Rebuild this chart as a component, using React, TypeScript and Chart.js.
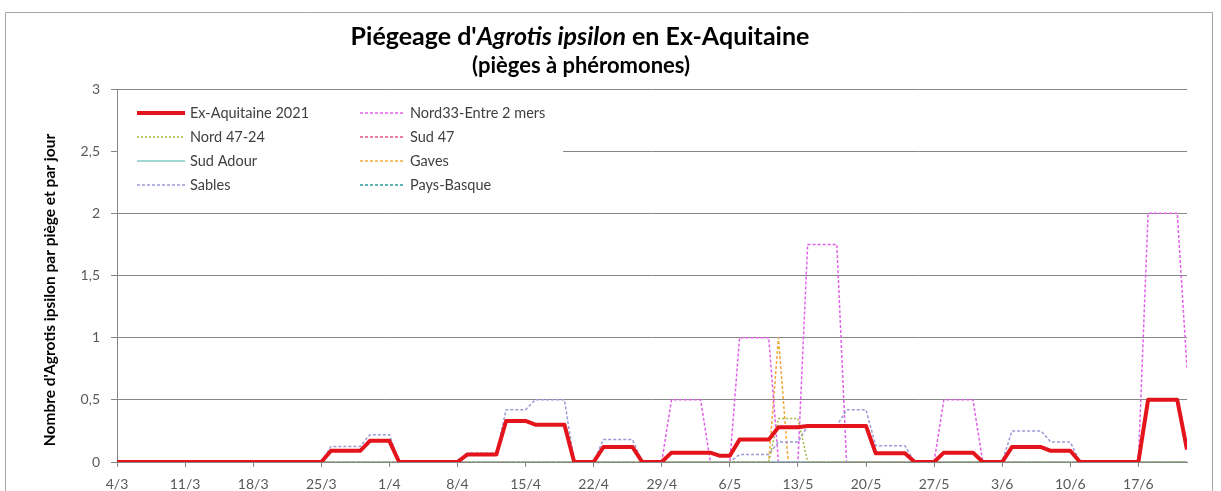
import React, { useEffect, useRef } from 'react';
import { Chart, registerables } from 'chart.js';

Chart.register(...registerables);

// ---- Text ----
const titleParts = [
  { text: "Piégeage d'", italic: false },
  { text: 'Agrotis ipsilon', italic: true },
  { text: ' en Ex-Aquitaine', italic: false },
];
const subtitleText = '(pièges à phéromones)';
const yAxisTitle = "Nombre d'Agrotis ipsilon par piège et par jour";

// ---- Axes (x = days since 4/3) ----
const tickDays = [0, 7, 14, 21, 28, 35, 42, 49, 56, 63, 70, 77, 84, 91, 98, 105];
const tickLabels = ['4/3', '11/3', '18/3', '25/3', '1/4', '8/4', '15/4', '22/4', '29/4', '6/5', '13/5', '20/5', '27/5', '3/6', '10/6', '17/6'];
const yTickLabels = ['0', '0,5', '1', '1,5', '2', '2,5', '3'];
const lastDay = 110;

// ---- Series (breakpoint days and values) ----
const exAquitaineDays = [0, 21, 22, 25, 26, 28, 29, 35, 36, 39, 40, 42, 43, 46, 47, 49, 50, 53, 54, 56, 57, 61, 62, 63, 64, 67, 68, 70, 71, 77, 78, 81, 82, 84, 85, 88, 89, 91, 92, 95, 96, 98, 99, 105, 106, 109, 110];
const exAquitaineVals = [0, 0, 0.09, 0.09, 0.17, 0.17, 0, 0, 0.06, 0.06, 0.33, 0.33, 0.3, 0.3, 0, 0, 0.12, 0.12, 0, 0, 0.075, 0.075, 0.05, 0.05, 0.18, 0.18, 0.28, 0.28, 0.29, 0.29, 0.07, 0.07, 0, 0, 0.075, 0.075, 0, 0, 0.12, 0.12, 0.09, 0.09, 0, 0, 0.5, 0.5, 0.1];

const nord4724Days = [0, 67, 68, 70, 71, 110];
const nord4724Vals = [0, 0, 0.35, 0.35, 0, 0];

const sudAdourDays = [0, 110];
const sudAdourVals = [0, 0];

const sablesDays = [0, 21, 22, 25, 26, 28, 29, 35, 36, 39, 40, 42, 43, 46, 47, 49, 50, 53, 54, 63, 64, 67, 68, 70, 71, 74, 75, 77, 78, 81, 82, 91, 92, 95, 96, 98, 99, 110];
const sablesVals = [0, 0, 0.125, 0.125, 0.22, 0.22, 0, 0, 0.07, 0.07, 0.42, 0.42, 0.5, 0.5, 0, 0, 0.18, 0.18, 0, 0, 0.06, 0.06, 0.16, 0.16, 0.29, 0.29, 0.42, 0.42, 0.13, 0.13, 0, 0, 0.25, 0.25, 0.16, 0.16, 0, 0];

const nord33Days = [0, 56, 57, 60, 61, 63, 64, 67, 68, 70, 71, 74, 75, 84, 85, 88, 89, 105, 106, 109, 110];
const nord33Vals = [0, 0, 0.5, 0.5, 0, 0, 1, 1, 0, 0, 1.75, 1.75, 0, 0, 0.5, 0.5, 0, 0, 2, 2, 0.75];

const sud47Days = [0, 110];
const sud47Vals = [0, 0];

const gavesDays = [0, 67, 68, 69, 110];
const gavesVals = [0, 0, 1, 0, 0];

const paysBasqueDays = [0, 110];
const paysBasqueVals = [0, 0];

const FONT = 'Lato, "Liberation Sans", sans-serif';

const pts = (days: number[], vals: number[]) => days.map((d, i) => ({ x: d, y: vals[i] }));

const overlayPlugin = {
  id: 'overlay',
  beforeDraw(chart: any) {
    const ctx = chart.ctx;
    ctx.save();
    ctx.fillStyle = '#ffffff';
    ctx.fillRect(0, 0, chart.width, chart.height);
    ctx.strokeStyle = '#a6a6a6';
    ctx.lineWidth = 1;
    ctx.beginPath();
    ctx.moveTo(5.5, chart.height + 5);
    ctx.lineTo(5.5, 12.5);
    ctx.lineTo(1212.5, 12.5);
    ctx.lineTo(1212.5, chart.height + 5);
    ctx.stroke();
    ctx.restore();
  },
  afterDatasetsDraw(chart: any) {
    const ctx = chart.ctx;
    const area = chart.chartArea;
    ctx.save();
    // legend box
    ctx.fillStyle = '#ffffff';
    ctx.fillRect(area.left + 1, 97, 563 - area.left - 1, 100);
    const colLine = [[137, 185], [360, 403]];
    const colText = [190, 410];
    const rowY = [113, 137, 161, 185];
    chart.data.datasets.forEach((ds: any, i: number) => {
      const col = Math.floor(i / 4);
      const row = i % 4;
      const y = rowY[row];
      ctx.save();
      ctx.strokeStyle = ds.borderColor;
      ctx.lineWidth = ds.borderWidth;
      ctx.setLineDash(ds.borderDash || []);
      ctx.beginPath();
      ctx.moveTo(colLine[col][0], y);
      ctx.lineTo(colLine[col][1], y);
      ctx.stroke();
      ctx.restore();
      ctx.fillStyle = '#404040';
      ctx.font = `14.5px ${FONT}`;
      ctx.textBaseline = 'middle';
      ctx.textAlign = 'left';
      ctx.fillText(ds.label, colText[col], y);
    });
    ctx.restore();
  },
  afterDraw(chart: any) {
    const ctx = chart.ctx;
    ctx.save();
    ctx.fillStyle = '#000000';
    ctx.textBaseline = 'alphabetic';
    ctx.textAlign = 'left';
    // title
    const tSize = 25;
    const widths = titleParts.map((p) => {
      ctx.font = `${p.italic ? 'italic ' : ''}bold ${tSize}px ${FONT}`;
      return ctx.measureText(p.text).width;
    });
    const total = widths.reduce((a, b) => a + b, 0);
    let x = 580 - total / 2;
    titleParts.forEach((p, i) => {
      ctx.font = `${p.italic ? 'italic ' : ''}bold ${tSize}px ${FONT}`;
      ctx.fillText(p.text, x, 45);
      x += widths[i];
    });
    // subtitle
    ctx.font = `bold 22px ${FONT}`;
    ctx.textAlign = 'center';
    ctx.fillText(subtitleText, 581, 73);
    // y axis title
    ctx.translate(50, 290);
    ctx.rotate(-Math.PI / 2);
    ctx.font = `bold 15.5px ${FONT}`;
    ctx.textAlign = 'center';
    ctx.textBaseline = 'middle';
    ctx.fillText(yAxisTitle, 0, 0);
    ctx.restore();
  },
};

export default function App() {
  const canvasRef = useRef<HTMLCanvasElement | null>(null);

  useEffect(() => {
    if (!canvasRef.current) return;
    const thin = 1.5;
    const chart = new Chart(canvasRef.current, {
      type: 'line',
      data: {
        datasets: [
          { label: 'Ex-Aquitaine 2021', data: pts(exAquitaineDays, exAquitaineVals), borderColor: '#E3141B', borderWidth: 4, borderDash: [] },
          { label: 'Nord 47-24', data: pts(nord4724Days, nord4724Vals), borderColor: '#A8B545', borderWidth: thin, borderDash: [2, 2] },
          { label: 'Sud Adour', data: pts(sudAdourDays, sudAdourVals), borderColor: '#86C8C8', borderWidth: thin, borderDash: [] },
          { label: 'Sables', data: pts(sablesDays, sablesVals), borderColor: '#9A9AD8', borderWidth: thin, borderDash: [3, 2] },
          { label: 'Nord33-Entre 2 mers', data: pts(nord33Days, nord33Vals), borderColor: '#E060E8', borderWidth: thin, borderDash: [3, 2] },
          { label: 'Sud 47', data: pts(sud47Days, sud47Vals), borderColor: '#E8508A', borderWidth: thin, borderDash: [3, 2] },
          { label: 'Gaves', data: pts(gavesDays, gavesVals), borderColor: '#F2A93B', borderWidth: thin, borderDash: [3, 2] },
          { label: 'Pays-Basque', data: pts(paysBasqueDays, paysBasqueVals), borderColor: '#2E9C9C', borderWidth: thin, borderDash: [3, 2] },
        ].map((d) => ({ ...d, pointRadius: 0, tension: 0, fill: false, borderJoinStyle: 'round' as const })),
      },
      options: {
        animation: false,
        responsive: false,
        maintainAspectRatio: false,
        layout: { padding: { top: 89, right: 34, left: 0, bottom: 0 } },
        plugins: {
          legend: { display: false },
          title: { display: false },
          tooltip: { enabled: false },
        },
        scales: {
          x: {
            type: 'linear',
            min: 0,
            max: lastDay,
            afterBuildTicks: (scale: any) => {
              scale.ticks = tickDays.map((v) => ({ value: v }));
            },
            afterFit: (scale: any) => {
              scale.height = 29;
            },
            ticks: {
              autoSkip: false,
              maxRotation: 0,
              padding: 9,
              color: '#595959',
              font: { family: FONT, size: 14 },
              callback: (v: any) => {
                const i = tickDays.indexOf(Number(v));
                return i >= 0 ? tickLabels[i] : '';
              },
            },
            grid: { drawOnChartArea: false, drawTicks: true, tickLength: 5, color: '#868686' },
            border: { color: '#868686', width: 1 },
          },
          y: {
            min: 0,
            max: 3,
            afterFit: (scale: any) => {
              scale.width = 117;
            },
            ticks: {
              stepSize: 0.5,
              padding: 11,
              color: '#595959',
              font: { family: FONT, size: 14 },
              callback: (v: any) => yTickLabels[Math.round(Number(v) * 2)] ?? '',
            },
            grid: { color: '#868686', tickLength: 6 },
            border: { color: '#868686', width: 1 },
          },
        },
      },
      plugins: [overlayPlugin],
    } as any);
    return () => chart.destroy();
  }, []);

  return (
    <div style={{ position: 'absolute', left: 0, top: 0, width: 1221, height: 491, overflow: 'hidden', background: '#fff' }}>
      <canvas ref={canvasRef} width={1221} height={491} style={{ display: 'block' }} />
    </div>
  );
}
